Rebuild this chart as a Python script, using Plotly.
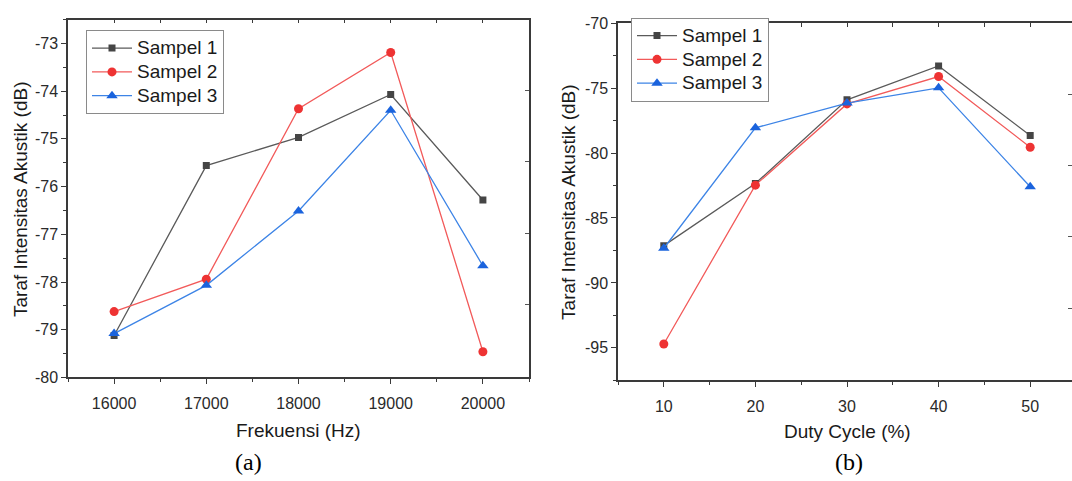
import plotly.graph_objects as go

# ---------------- data ----------------
freq = [16000, 17000, 18000, 19000, 20000]
a_s1 = [-79.12, -75.56, -74.97, -74.07, -76.28]
a_s2 = [-78.62, -77.94, -74.37, -73.19, -79.46]
a_s3 = [-79.08, -78.07, -76.51, -74.40, -77.66]

duty = [10, 20, 30, 40, 50]
b_s1 = [-87.13, -82.35, -75.90, -73.30, -78.65]
b_s2 = [-94.70, -82.47, -76.22, -74.11, -79.55]
b_s3 = [-87.33, -78.06, -76.15, -74.98, -82.60]

series_names = ["Sampel 1", "Sampel 2", "Sampel 3"]
a_yticks = [-80, -79, -78, -77, -76, -75, -74, -73]
b_yticks = [-95, -90, -85, -80, -75, -70]
a_xticks = freq
b_xticks = duty

# ---------------- styles ----------------
W, H = 1072, 481
FONT = "Liberation Sans, Arial, sans-serif"
SERIF = "Liberation Serif, Times New Roman, serif"
AXC = "#3a3a3a"
line_cols = ["#5a5a5a", "#f25a5a", "#3d84e6"]
mark_cols = ["#454545", "#ee3333", "#1a63dd"]
symbols = ["square", "circle", "triangle-up"]
msizes = [7, 9, 10]


def px(x):
    return x / W


def py(y):
    return (H - y) / H


def legend_label(name):
    return "<span style='font-size:19px'>" + name + "</span>"


# plot areas in pixels
A_L, A_R, A_T, A_B = 68, 529, 12, 383
B_L, B_R, B_T, B_B = 618, 1072, 15.7, 386

fig = go.Figure()

for i, (ys, name) in enumerate(zip([a_s1, a_s2, a_s3], series_names)):
    fig.add_trace(go.Scatter(
        x=freq, y=ys, name=legend_label(name), mode="lines+markers",
        line=dict(color=line_cols[i], width=1.3),
        marker=dict(symbol=symbols[i], size=msizes[i], color=mark_cols[i]),
        xaxis="x", yaxis="y", legend="legend",
    ))
for i, (ys, name) in enumerate(zip([b_s1, b_s2, b_s3], series_names)):
    fig.add_trace(go.Scatter(
        x=duty, y=ys, name=legend_label(name), mode="lines+markers",
        line=dict(color=line_cols[i], width=1.3),
        marker=dict(symbol=symbols[i], size=msizes[i], color=mark_cols[i]),
        xaxis="x2", yaxis="y2", legend="legend2",
    ))

# empty traces to register the frame overlay axes
fig.add_trace(go.Scatter(x=[], y=[], xaxis="x3", yaxis="y3", showlegend=False, hoverinfo="skip"))
fig.add_trace(go.Scatter(x=[], y=[], xaxis="x4", yaxis="y4", showlegend=False, hoverinfo="skip"))

a_xr = [15500, 20500]
a_yr = [-80, -72.5]
b_xr = [5, 5 + (B_R - B_L) / ((1076 - B_L) / 50)]
b_yr = [-97.5, -70]

tickfont = dict(family=FONT, size=16, color="#2a2a2a")
base_axis = dict(showgrid=False, zeroline=False, showline=True, linecolor=AXC,
                 linewidth=1.5, ticks="outside", ticklen=5, tickwidth=1.2,
                 tickcolor=AXC, tickfont=tickfont, mirror=False)

# right-side frame tick positions (separate scale, as in the source figure)
a_rr = [-(A_B - 307) / 73.7, (307 - A_T) / 73.7]
b_rr = [-(B_B - 311) / 73.7, (311 - B_T) / 73.7]
right_ticks = [0, 1, 2, 3]

legend_common = dict(xanchor="left", yanchor="top",
                     bgcolor="white", bordercolor="#8a8a8a", borderwidth=1,
                     font=dict(family=FONT, size=16, color="#1a1a1a"),
                     tracegroupgap=0, itemwidth=40)

fig.update_layout(
    width=W, height=H,
    margin=dict(l=0, r=0, t=0, b=0),
    paper_bgcolor="white", plot_bgcolor="white",
    showlegend=True,
    xaxis=dict(base_axis, domain=[px(A_L), px(A_R)], range=a_xr, anchor="y",
               tickvals=a_xticks, ticktext=[str(v) for v in a_xticks],
               minor=dict(ticks="outside", ticklen=3, tickcolor=AXC, dtick=500, tick0=0),
               ticklabelstandoff=6),
    yaxis=dict(base_axis, domain=[py(A_B), py(A_T)], range=a_yr, anchor="x",
               tickvals=a_yticks, ticktext=[str(v) for v in a_yticks],
               minor=dict(ticks="outside", ticklen=3, tickcolor=AXC, dtick=0.5, tick0=0)),
    xaxis3=dict(showgrid=False, zeroline=False, showline=True, linecolor=AXC, linewidth=1.5,
                overlaying="x", side="top", anchor="y3", range=a_xr,
                ticks="inside", ticklen=4, tickwidth=1.2, tickcolor=AXC,
                dtick=500, tick0=0, showticklabels=False),
    yaxis3=dict(showgrid=False, zeroline=False, showline=True, linecolor=AXC, linewidth=1.5,
                overlaying="y", side="right", anchor="x3", range=a_rr,
                ticks="inside", ticklen=4, tickwidth=1.2, tickcolor="#555",
                tickvals=right_ticks, showticklabels=False),
    xaxis2=dict(base_axis, domain=[px(B_L), px(B_R)], range=b_xr, anchor="y2",
                tickvals=b_xticks, ticktext=[str(v) for v in b_xticks],
                minor=dict(ticks="outside", ticklen=3, tickcolor=AXC, dtick=5, tick0=0),
                ticklabelstandoff=6),
    yaxis2=dict(base_axis, domain=[py(B_B), py(B_T)], range=b_yr, anchor="x2",
                tickvals=b_yticks, ticktext=[str(v) for v in b_yticks],
                minor=dict(ticks="outside", ticklen=3, tickcolor=AXC, dtick=2.5, tick0=0)),
    xaxis4=dict(showgrid=False, zeroline=False, showline=True, linecolor=AXC, linewidth=1.5,
                overlaying="x2", side="top", anchor="y4", range=b_xr,
                ticks="inside", ticklen=4, tickwidth=1.2, tickcolor=AXC,
                dtick=5, tick0=0, showticklabels=False),
    yaxis4=dict(showgrid=False, zeroline=False, showline=False,
                overlaying="y2", side="right", anchor="x4", range=b_rr,
                ticks="inside", ticklen=4, tickwidth=1.2, tickcolor="#555",
                tickvals=right_ticks, showticklabels=False),
    legend=dict(legend_common, x=px(86), y=py(23)),
    legend2=dict(legend_common, x=px(631), y=py(10)),
)

title_font = dict(family=FONT, size=19, color="#1a1a1a")
annos = [
    dict(text="Taraf Intensitas Akustik (dB)", xref="paper", yref="paper",
         x=px(20), y=py(198), textangle=-90, showarrow=False, font=title_font,
         xanchor="center", yanchor="middle"),
    dict(text="Taraf Intensitas Akustik (dB)", xref="paper", yref="paper",
         x=px(569), y=py(201), textangle=-90, showarrow=False, font=title_font,
         xanchor="center", yanchor="middle"),
    dict(text="Frekuensi (Hz)", xref="x", yref="paper", x=18000, y=py(438),
         showarrow=False, font=title_font, xanchor="center", yanchor="middle"),
    dict(text="Duty Cycle (%)", xref="x2", yref="paper", x=30, y=py(439),
         showarrow=False, font=title_font, xanchor="center", yanchor="middle"),
    dict(text="(a)", xref="paper", yref="paper", x=px(248), y=py(471),
         showarrow=False, font=dict(family=SERIF, size=24, color="black"),
         xanchor="center", yanchor="middle"),
    dict(text="(b)", xref="paper", yref="paper", x=px(849), y=py(471),
         showarrow=False, font=dict(family=SERIF, size=24, color="black"),
         xanchor="center", yanchor="middle"),
]
fig.update_layout(annotations=annos)

fig.write_html("out.html")
